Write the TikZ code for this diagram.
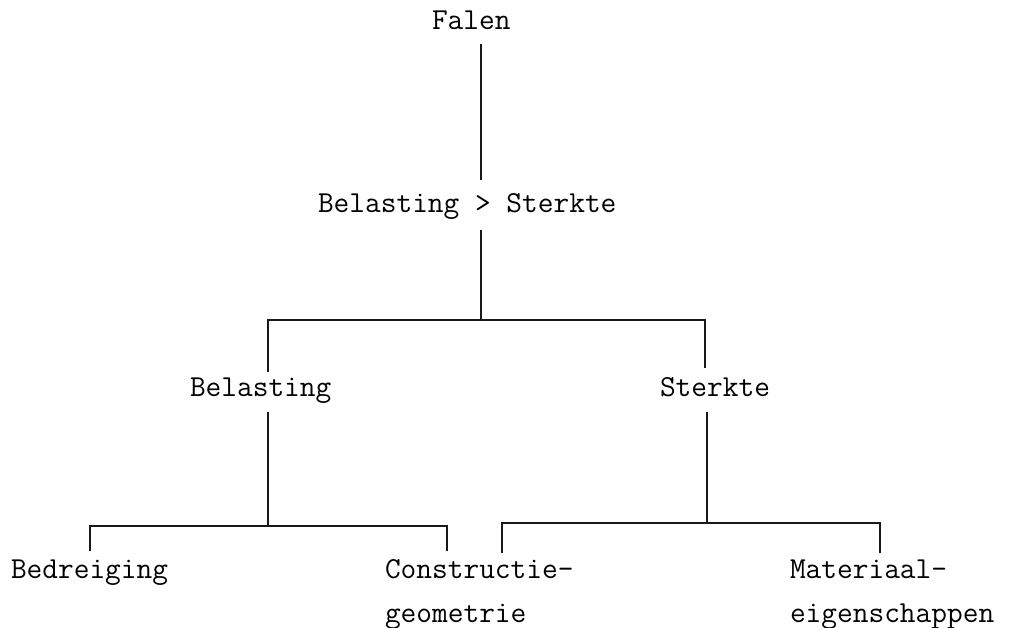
\documentclass[tikz,border=0pt]{standalone}
\begin{document}
\begin{tikzpicture}[x=1pt,y=-1pt,
  lbl/.style={inner sep=0pt,outer sep=0pt,anchor=base west,font=\ttfamily\fontsize{30.5}{36}\selectfont,text=black},
  tree/.style={line width=2.7pt,draw=black!90,line cap=butt}]
\useasboundingbox[fill=white] (0,0) rectangle (1016,628);
% texts
\node[lbl] (falen) at (432,30) {Falen};
\node[lbl] (bs) at (318,213) {Belasting > Sterkte};
\node[lbl] (bel) at (190,396) {Belasting};
\node[lbl] (ster) at (660,396) {Sterkte};
\node[lbl] (bed) at (11,578) {Bedreiging};
\node[lbl] (con) at (385,578) {Constructie-};
\node[lbl] (geo) at (385,622) {geometrie};
\node[lbl] (mat) at (790,578) {Materiaal-};
\node[lbl] (eig) at (790,622) {eigenschappen};
% connector points
\coordinate (f0) at (481,44);
\coordinate (f1) at (481,180);
\coordinate (b0) at (481,230);
\coordinate (j1) at (481,320);
\coordinate (jl) at (268,320);
\coordinate (jr) at (705,320);
\coordinate (belT) at (268,372);
\coordinate (sterT) at (705,368);
\coordinate (belB) at (268,412);
\coordinate (j2) at (268,526);
\coordinate (j2l) at (90,526);
\coordinate (j2r) at (447,526);
\coordinate (bedT) at (90,551);
\coordinate (conT) at (447,551);
\coordinate (sterB) at (707,412);
\coordinate (j3) at (707,523);
\coordinate (j3l) at (502,523);
\coordinate (j3r) at (880,523);
\coordinate (con2T) at (502,553);
\coordinate (matT) at (880,553);
% connectors
\draw[tree] (f0) -- (f1);
\draw[tree] (b0) -- (j1);
\draw[tree] (belT) -- (jl) -- (jr) -- (sterT);
\draw[tree] (belB) -- (j2);
\draw[tree] (bedT) -- (j2l) -- (j2r) -- (conT);
\draw[tree] (sterB) -- (j3);
\draw[tree] (con2T) -- (j3l) -- (j3r) -- (matT);
\end{tikzpicture}
\end{document}
